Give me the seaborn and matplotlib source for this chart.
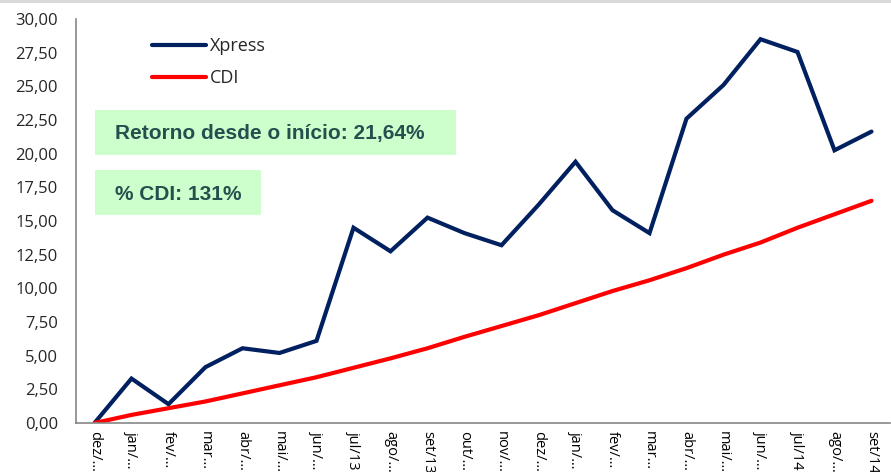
import matplotlib
matplotlib.use("Agg")
import matplotlib.pyplot as plt
import seaborn as sns
import pandas as pd
import numpy as np
from matplotlib.patches import Rectangle
from matplotlib.ticker import FuncFormatter, FixedLocator
from matplotlib.lines import Line2D

months = ["dez/…", "jan/…", "fev/…", "mar…", "abr/…", "mai/…", "jun/…", "jul/13",
          "ago/…", "set/13", "out/…", "nov/…", "dez/…", "jan/…", "fev/…", "mar…",
          "abr/…", "mai/…", "jun/…", "jul/14", "ago/…", "set/14"]
xpress = [0.0, 3.3, 1.4, 4.15, 5.55, 5.2, 6.1, 14.5, 12.75, 15.25, 14.1, 13.2,
          16.2, 19.4, 15.8, 14.1, 22.6, 25.1, 28.5, 27.55, 20.25, 21.64]
cdi = [0.0, 0.6, 1.1, 1.6, 2.2, 2.8, 3.4, 4.1, 4.8, 5.55, 6.4, 7.2,
       8.0, 8.9, 9.8, 10.6, 11.5, 12.5, 13.4, 14.5, 15.5, 16.5]
series_names = ["Xpress", "CDI"]
colors = ["#002060", "#ff0000"]
box_texts = ["Retorno desde o início: 21,64%", "% CDI: 131%"]

sns.set_theme(style="white")
plt.rcParams['font.family'] = ['Liberation Sans', 'DejaVu Sans']

n = len(months)
df = pd.DataFrame({
    "idx": list(range(n)) * 2,
    "valor": xpress + cdi,
    "serie": [series_names[0]] * n + [series_names[1]] * n,
})

W, H = 891, 472
fig = plt.figure(figsize=(W / 100, H / 100), dpi=100)
ax = fig.add_axes([76 / W, (H - 423) / H, (890 - 76) / W, (423 - 19) / H])

sns.lineplot(data=df, x="idx", y="valor", hue="serie", palette=colors,
             linewidth=3.0, ax=ax, legend=False, solid_capstyle="round",
             solid_joinstyle="miter")

ax.set_xlim(-0.5, n - 0.5)
ax.set_ylim(0, 30)
ax.set_yticks(np.arange(0, 30.01, 2.5))
ax.yaxis.set_major_formatter(FuncFormatter(lambda v, p: f"{v:.2f}".replace(".", ",")))
ax.set_xticks(range(n))
ax.set_xticklabels(months, rotation=-90, fontsize=10.5, color="#000000",
                   family=['Open Sans', 'DejaVu Sans'])
ax.xaxis.set_minor_locator(FixedLocator(np.arange(-0.5, n, 1.0)))
ax.tick_params(axis="x", which="major", length=0, pad=6)
ax.tick_params(axis="x", which="minor", length=5, width=1, color="#868686", direction="out")
ax.tick_params(axis="y", which="major", length=6, width=1, color="#868686",
               direction="out", pad=7, labelsize=12)
for lab in ax.get_yticklabels():
    lab.set_family(['Open Sans', 'DejaVu Sans'])
ax.set_xlabel("")
ax.set_ylabel("")
for s in ["top", "right"]:
    ax.spines[s].set_visible(False)
for s in ["left", "bottom"]:
    ax.spines[s].set_color("#868686")
    ax.spines[s].set_linewidth(1.2)

# legend
handles = [Line2D([0], [0], color=c, lw=3.0, solid_capstyle="round") for c in colors]
leg = ax.legend(handles, series_names, loc="upper left",
                bbox_to_anchor=(60 / 814, 1 - (26 - 19) / 404 + 0.012),
                frameon=False, handlelength=3.0, handletextpad=0.2, labelspacing=0.75,
                prop={"family": ['Open Sans', 'DejaVu Sans'], "size": 13})

# boxes
def px_rect(x0, y0, x1, y1, color):
    fig.patches.append(Rectangle((x0 / W, 1 - y1 / H), (x1 - x0) / W, (y1 - y0) / H,
                                 transform=fig.transFigure, facecolor=color,
                                 edgecolor="none", zorder=5))

px_rect(95, 110, 456, 155, "#ccffcc")
px_rect(95, 170, 261, 215, "#ccffcc")
fig.text(115 / W, 1 - 134 / H, box_texts[0], fontsize=15, fontweight="bold",
         color="#23504f", va="center", ha="left", zorder=6)
fig.text(115 / W, 1 - 194 / H, box_texts[1], fontsize=15, fontweight="bold",
         color="#23504f", va="center", ha="left", zorder=6)

# top gray strip
fig.patches.append(Rectangle((0, 1 - 3 / H), 1, 3 / H, transform=fig.transFigure,
                             facecolor="#d9d9d9", edgecolor="none", zorder=0))

fig.savefig("out.png", dpi=100)
